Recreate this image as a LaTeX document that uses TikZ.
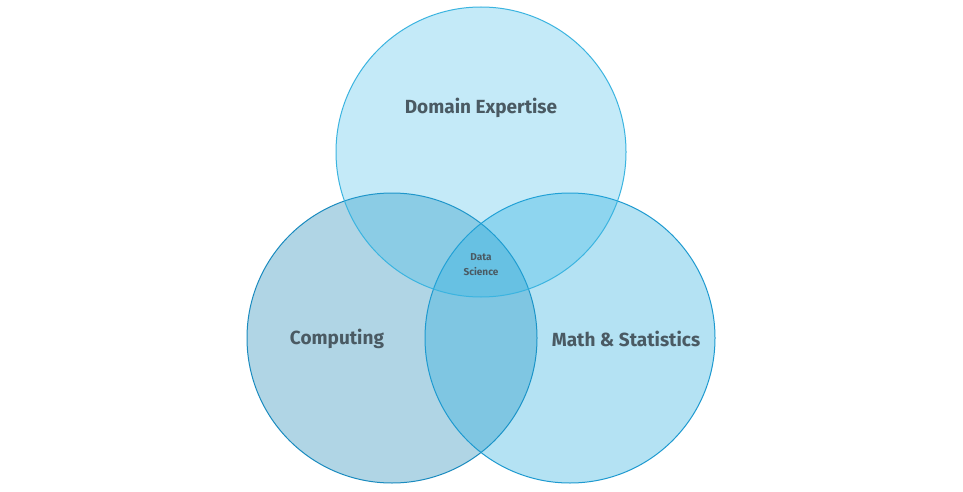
\documentclass[tikz,border=0pt]{standalone}
\usepackage{fontspec}
\setmainfont{Fira Sans}
\begin{document}
\begin{tikzpicture}[x=1pt,y=-1pt,
  lbl/.style={text=black!55!cyan!30!gray, font=\fontsize{19}{22}\selectfont\bfseries},
  circ/.style={circle, minimum size=290pt, inner sep=0pt, line width=1pt}]
\definecolor{tc}{HTML}{2CB5E8}\definecolor{ts}{HTML}{3BB4E0}
\definecolor{lc}{HTML}{0A7FB0}\definecolor{ls}{HTML}{1A8BBF}
\definecolor{rc}{HTML}{1EA8DC}\definecolor{rs}{HTML}{1E9AD0}
\definecolor{txt}{HTML}{4A5A63}
\useasboundingbox (0,0) rectangle (963,492);
\fill[white] (0,0) rectangle (963,492);
\node[circ, fill=lc, fill opacity=0.32, draw=ls, draw opacity=1] (comp) at (392,338) {};
\node[circ, fill=rc, fill opacity=0.33, draw=rs, draw opacity=1] (math) at (570,338) {};
\node[circ, fill=tc, fill opacity=0.28, draw=ts, draw opacity=1] (dom) at (481,152) {};
\node[lbl, text=txt] (ldom) at (481,108) {Domain Expertise};
\node[lbl, text=txt] (lcomp) at (337,339) {Computing};
\node[lbl, text=txt] (lmath) at (626,339) {Math \& Statistics};
\node[text=txt, font=\fontsize{10}{15}\selectfont\bfseries, align=center] (ds) at (481,265) {Data\\Science};
\end{tikzpicture}
\end{document}
